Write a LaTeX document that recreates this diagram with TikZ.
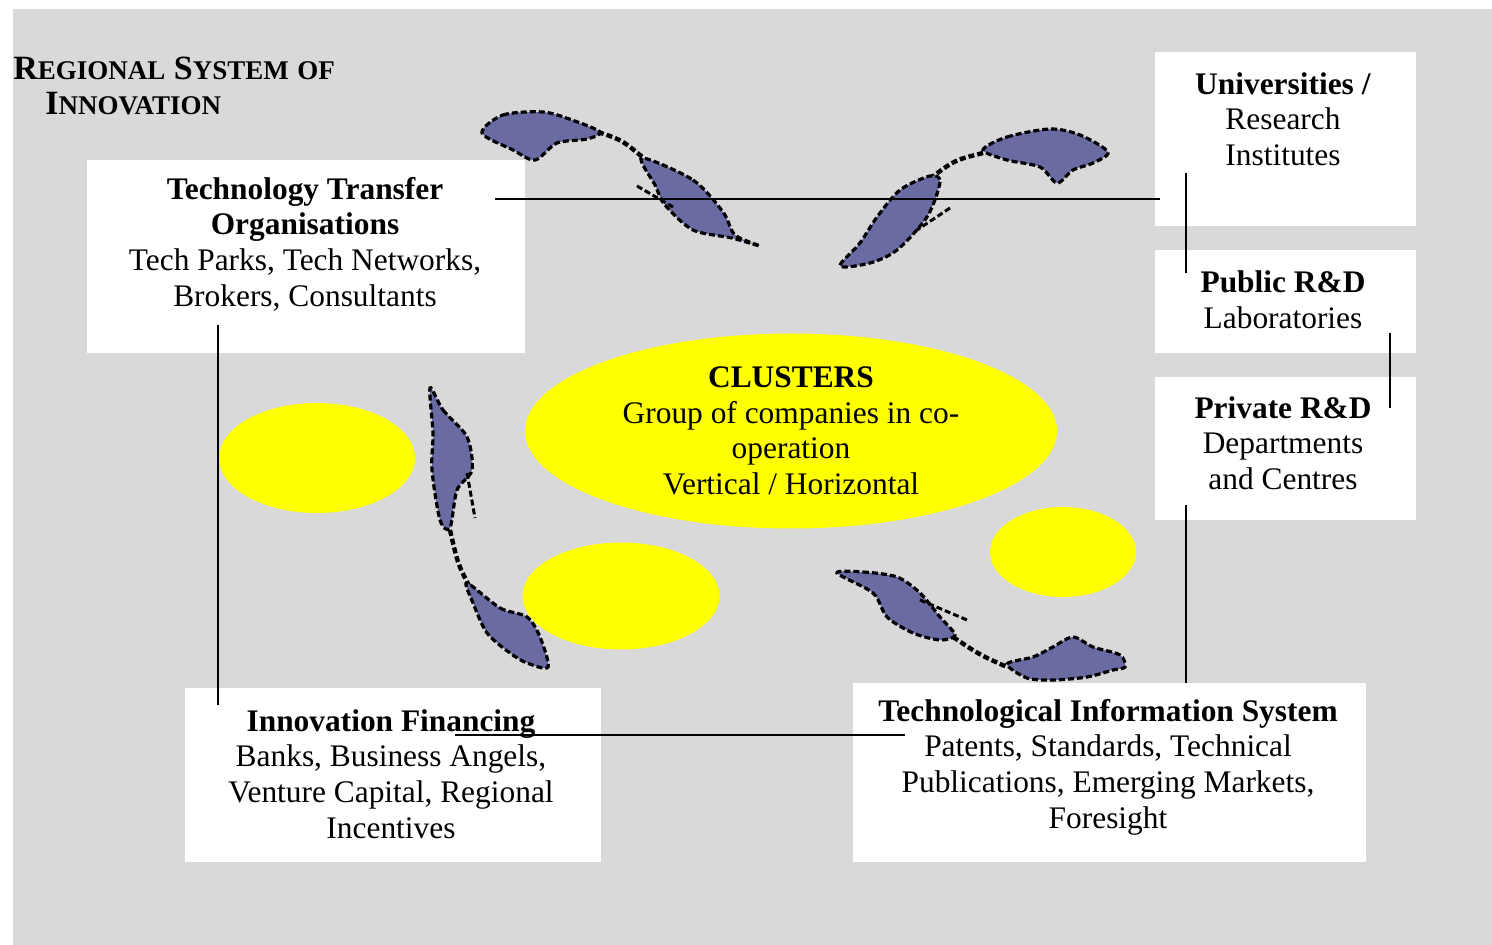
\documentclass[tikz,border=0pt]{standalone}
\usepackage{fontspec}
\setmainfont{Liberation Serif}
\usetikzlibrary{shapes.geometric}
\definecolor{bggray}{HTML}{D9D9D9}
\definecolor{ellyellow}{HTML}{FFFF00}
\definecolor{arrowblue}{HTML}{6B6BA3}
\newcommand\fksc[2]{{\fontsize{17}{17.5}\selectfont #1}{\fontsize{13.5}{17.5}\selectfont #2}}
\tikzset{
  box/.style={rectangle, fill=white, draw=none, inner sep=0pt},
  txt/.style={align=center, inner sep=0pt, font=\fontsize{15.7}{17.8}\selectfont},
  ell/.style={ellipse, fill=ellyellow, draw=none, inner sep=0pt},
  apart/.style={fill=arrowblue, draw=black, line width=1.6pt, dash pattern=on 3pt off 1.5pt},
  astem/.style={draw=black, line width=2.2pt, dash pattern=on 3pt off 1.5pt},
  abarb/.style={draw=black, line width=1.5pt, dash pattern=on 3pt off 1.5pt},
  link/.style={draw=black, line width=1pt}
}
\begin{document}
\begin{tikzpicture}[x=0.5pt,y=-0.5pt]
\useasboundingbox (0,0) rectangle (1492,945);
\fill[white] (0,0) rectangle (1492,945);
\fill[bggray] (13,9) rectangle (1492,945);

% title
\node[anchor=north west, inner sep=0pt, align=left, font=\bfseries\fontsize{17}{17.5}\selectfont] (title) at (13,57)
  {\fksc{R}{EGIONAL} \fksc{S}{YSTEM} \fksc{}{OF}\\\hspace*{16pt}\fksc{I}{NNOVATION}};

% ellipses
\node[ell, minimum width=266pt, minimum height=97.5pt, txt] (clusters) at (791,431)
  {\textbf{CLUSTERS}\\Group of companies in co-\\operation\\Vertical / Horizontal};
\node[ell, minimum width=98pt, minimum height=55pt] (ellL) at (317,458) {};
\node[ell, minimum width=98.5pt, minimum height=53.5pt] (ellB) at (621,596) {};
\node[ell, minimum width=73pt, minimum height=45pt] (ellR) at (1063,552) {};

% boxes
\node[box, minimum width=219pt, minimum height=96.5pt] (tto) at (306,256.5) {};
\node[box, minimum width=130.5pt, minimum height=87pt] (uni) at (1285.5,139) {};
\node[box, minimum width=130.5pt, minimum height=51.5pt] (pub) at (1285.5,301.5) {};
\node[box, minimum width=130.5pt, minimum height=71.5pt] (priv) at (1285.5,448.5) {};
\node[box, minimum width=208pt, minimum height=87pt] (fin) at (393,775) {};
\node[box, minimum width=256.5pt, minimum height=89.5pt] (tis) at (1109.5,772.5) {};

% box texts
\node[txt] (ttotext) at (305,244) {\textbf{Technology Transfer}\\\textbf{Organisations}\\Tech Parks, Tech Networks,\\Brokers, Consultants};
\node[txt] (unitext) at (1283,119) {\textbf{Universities /}\\Research\\Institutes};
\node[txt] (pubtext) at (1283,300) {\textbf{Public R\&D}\\Laboratories};
\node[txt] (privtext) at (1283,443) {\textbf{Private R\&D}\\Departments\\and Centres};
\node[txt] (fintext) at (391,774) {\textbf{Innovation Financing}\\Banks, Business Angels,\\Venture Capital, Regional\\Incentives};
\node[txt] (tistext) at (1108,767) {\textbf{Technological Information System}\\Patents, Standards, Technical\\Publications, Emerging Markets,\\Foresight};

% arrow 1 (top left)
\path[apart] plot[smooth cycle, tension=0.5] coordinates {(482,133) (503,115) (543,112) (572,120) (600,132) (587,139) (557,143) (535,160) (513,150)};
\path[astem] (598,132) .. controls (622,140) .. (646,160);
\path[apart] plot[smooth cycle, tension=0.5] coordinates {(642,158) (693,180) (723,212) (735,235) (760,246) (732,238) (693,230) (665,205) (655,185)};
\path[abarb] (637,186) -- (673,207);

% arrow 2 (top right)
\path[apart] plot[smooth cycle, tension=0.5] coordinates {(983,150) (1007,137) (1050,129) (1080,135) (1108,152) (1093,163) (1073,170) (1057,183) (1040,167) (1007,160)};
\path[astem] (983,153) .. controls (955,160) .. (932,177);
\path[apart] plot[smooth cycle, tension=0.5] coordinates {(930,176) (940,182) (927,217) (897,250) (870,263) (840,266) (860,243) (877,217) (900,190)};
\path[abarb] (950,208) -- (917,230);

% arrow 3 (left)
\path[apart] plot[smooth cycle, tension=0.5] coordinates {(430,388) (443,410) (467,437) (472,470) (457,490) (450,528) (440,520) (432,470) (433,433)};
\path[abarb] (467,473) -- (475,518);
\path[astem] (450,530) .. controls (458,565) .. (473,593);
\path[apart] plot[smooth cycle, tension=0.5] coordinates {(467,583) (500,608) (527,617) (540,637) (548,667) (527,663) (510,653) (487,633) (473,603)};

% arrow 4 (bottom)
\path[apart] plot[smooth cycle, tension=0.5] coordinates {(837,573) (863,572) (897,577) (920,593) (940,617) (955,635) (940,640) (913,633) (887,617) (873,593)};
\path[abarb] (920,600) -- (967,620);
\path[astem] (953,637) .. controls (980,655) .. (1007,667);
\path[apart] plot[smooth cycle, tension=0.5] coordinates {(1007,664) (1033,657) (1053,647) (1073,637) (1093,647) (1120,655) (1125,667) (1113,670) (1087,677) (1053,680) (1027,678)};

% connector lines
\coordinate (c1a) at (495,199);  \coordinate (c1b) at (1160,199);
\coordinate (c2a) at (1186,173); \coordinate (c2b) at (1186,273);
\coordinate (c3a) at (1390,333); \coordinate (c3b) at (1390,408);
\coordinate (c4a) at (1186,505); \coordinate (c4b) at (1186,683);
\coordinate (c5a) at (455,735);  \coordinate (c5b) at (905,735);
\coordinate (c6a) at (218,325);  \coordinate (c6b) at (218,705);
\draw[link] (c1a) -- (c1b);
\draw[link] (c2a) -- (c2b);
\draw[link] (c3a) -- (c3b);
\draw[link] (c4a) -- (c4b);
\draw[link] (c5a) -- (c5b);
\draw[link] (c6a) -- (c6b);
\end{tikzpicture}
\end{document}
